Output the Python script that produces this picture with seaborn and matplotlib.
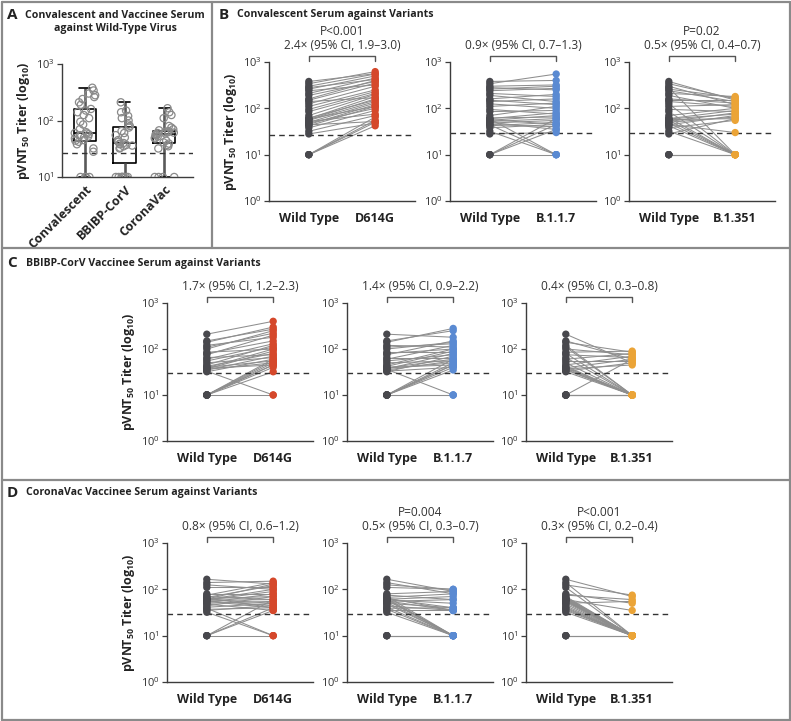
import numpy as np
import pandas as pd
import matplotlib
matplotlib.use("Agg")
import matplotlib.pyplot as plt
import seaborn as sns
from matplotlib.lines import Line2D
from matplotlib.ticker import FixedLocator, NullLocator

# ---- data (pVNT50 titers) ----
# convalescent serum, wild type and the three variants (paired by position)
conv_wt = [10, 10, 10, 10, 28, 32, 38, 42, 44, 45, 48, 50, 52, 55, 57, 59, 60,
           62, 70, 85, 95, 110, 125, 140, 150, 160, 190, 210, 240, 260, 280,
           300, 340, 380]
conv_d614g = [42, 50, 55, 65, 48, 70, 90, 110, 52, 120, 100, 130, 75, 140, 160,
              110, 180, 150, 200, 210, 230, 250, 300, 170, 350, 400, 380, 450,
              320, 500, 420, 550, 620, 560]
conv_b117 = [10, 35, 45, 60, 30, 10, 45, 50, 10, 40, 55, 35, 60, 70, 45, 10, 80,
             65, 110, 90, 75, 130, 100, 160, 120, 200, 140, 180, 270, 300, 250,
             320, 550, 400]
conv_b1351 = [10, 10, 10, 10, 60, 10, 55, 10, 70, 30, 10, 65, 80, 10, 60, 75,
              90, 10, 100, 10, 85, 120, 10, 110, 150, 130, 100, 180, 140, 170,
              10, 120, 160, 150]

# BBIBP-CorV vaccinee serum
bbibp_wt = [10, 10, 10, 10, 10, 10, 10, 10, 32, 33, 35, 36, 37, 38, 39, 40, 42,
            45, 50, 55, 60, 65, 75, 80, 85, 100, 110, 120, 140, 150, 210]
bbibp_d614g = [10, 40, 45, 50, 55, 60, 32, 45, 60, 10, 70, 50, 90, 45, 100, 55,
               80, 120, 65, 110, 130, 75, 200, 150, 100, 250, 220, 180, 300,
               270, 400]
bbibp_b117 = [10, 35, 40, 45, 50, 10, 60, 45, 70, 40, 55, 10, 80, 50, 60, 45,
              90, 100, 55, 75, 120, 65, 150, 100, 85, 140, 130, 110, 280, 250,
              180]
bbibp_b1351 = [10, 60, 10, 10, 10, 10, 10, 10, 10, 50, 10, 10, 45, 10, 60, 10,
               10, 70, 10, 55, 80, 10, 65, 10, 90, 75, 10, 10, 85, 60, 50]

# CoronaVac vaccinee serum
cv_wt = [10, 10, 10, 10, 32, 35, 37, 39, 41, 44, 48, 50, 52, 55, 56, 58, 59, 60,
         61, 62, 63, 65, 67, 70, 75, 80, 110, 125, 140, 165]
cv_d614g = [10, 35, 40, 60, 10, 45, 40, 10, 50, 70, 35, 55, 80, 40, 45, 60, 90,
            100, 50, 130, 70, 40, 120, 60, 140, 80, 110, 100, 150, 130]
cv_b117 = [10, 10, 10, 10, 10, 35, 10, 40, 10, 35, 10, 40, 10, 60, 35, 10, 50,
           10, 70, 40, 10, 35, 80, 10, 60, 90, 100, 100, 80, 90]
cv_b1351 = [10, 10, 10, 10, 10, 10, 10, 10, 10, 10, 10, 55, 10, 10, 10, 10, 10,
            35, 10, 10, 10, 10, 10, 10, 60, 50, 10, 75, 10, 70]

groups = ["Convalescent", "BBIBP-CorV", "CoronaVac"]
variants = ["D614G", "B.1.1.7", "B.1.351"]
cut_a = 27
cut_conv = [26, 30, 30]
cut_vacc = [30, 30, 30]

ratios_conv = ["2.4\u00d7 (95% CI, 1.9\u20133.0)", "0.9\u00d7 (95% CI, 0.7\u20131.3)",
               "0.5\u00d7 (95% CI, 0.4\u20130.7)"]
pvals_conv = ["P<0.001", "", "P=0.02"]
ratios_bbibp = ["1.7\u00d7 (95% CI, 1.2\u20132.3)", "1.4\u00d7 (95% CI, 0.9\u20132.2)",
                "0.4\u00d7 (95% CI, 0.3\u20130.8)"]
pvals_bbibp = ["", "", ""]
ratios_cv = ["0.8\u00d7 (95% CI, 0.6\u20131.2)", "0.5\u00d7 (95% CI, 0.3\u20130.7)",
             "0.3\u00d7 (95% CI, 0.2\u20130.4)"]
pvals_cv = ["", "P=0.004", "P<0.001"]

WT_COLOR = "#48484d"
VAR_COLORS = {"D614G": "#d5482b", "B.1.1.7": "#5a8ad2", "B.1.351": "#eba437"}

sns.set_theme(style="ticks")
plt.rcParams["font.family"] = ["Open Sans", "DejaVu Sans"]
plt.rcParams["mathtext.fontset"] = "custom"
plt.rcParams["mathtext.rm"] = "Open Sans"
plt.rcParams["mathtext.bf"] = "Open Sans:bold"
plt.rcParams["axes.linewidth"] = 1.0

W, H = 791, 721
fig = plt.figure(figsize=(W / 100, H / 100), dpi=100)
fig.patch.set_facecolor("white")

SPINE = "#3c3c3c"
YLABEL = r"pVNT$_{\mathbf{50}}$ Titer (log$_{\mathbf{10}}$)"


def px_axes(x0, ytop, x1, ybot):
    return fig.add_axes([x0 / W, 1 - ybot / H, (x1 - x0) / W, (ybot - ytop) / H])


def px_line(x0, y0, x1, y1):
    fig.add_artist(Line2D([x0 / W, x1 / W], [1 - y0 / H, 1 - y1 / H],
                          transform=fig.transFigure, color="#8a8a8a", lw=1.6))


def px_text(x, y, s, **kw):
    fig.text(x / W, 1 - y / H, s, va="center", **kw)


def style_axis(ax, ymin):
    sns.despine(ax=ax)
    for sp in ["left", "bottom"]:
        ax.spines[sp].set_color(SPINE)
        ax.spines[sp].set_linewidth(1.0)
    ticks = [t for t in [1, 10, 100, 1000] if t >= ymin]
    ax.yaxis.set_major_locator(FixedLocator(ticks))
    ax.yaxis.set_minor_locator(NullLocator())
    ax.tick_params(axis="y", length=3.5, width=0.9, color=SPINE, labelsize=8,
                   labelcolor="#333333", pad=1.5)
    ax.set_facecolor("white")
    ax.grid(False)


def paired(ax, wt, var, vname, cut, ratio, pval, ylabel):
    n = len(wt)
    df = pd.DataFrame({
        "id": list(range(n)) * 2,
        "pos": [0] * n + [1] * n,
        "titer": list(wt) + list(var),
        "strain": ["Wild Type"] * n + [vname] * n,
    })
    ax.set_yscale("log")
    sns.lineplot(data=df, x="pos", y="titer", units="id", estimator=None,
                 color="#8e8e8e", lw=0.75, ax=ax, zorder=1)
    sns.scatterplot(data=df, x="pos", y="titer", hue="strain",
                    palette={"Wild Type": WT_COLOR, vname: VAR_COLORS[vname]},
                    s=28, linewidth=0, legend=False, ax=ax, zorder=3)
    ax.axhline(cut, color="#333333", lw=1.0, ls=(0, (4, 3)), zorder=2)
    ax.set_ylim(1, 1000)
    ax.set_xlim(-0.6, 1.6)
    style_axis(ax, 1)
    ax.set_xticks([0, 1])
    ax.set_xticklabels(["Wild Type", vname], fontweight="bold", fontsize=9,
                       color="#222222")
    ax.tick_params(axis="x", length=0, pad=8)
    ax.set_xlabel("")
    if ylabel:
        ax.set_ylabel(YLABEL, fontweight="bold", fontsize=9, color="#222222",
                      labelpad=3)
    else:
        ax.set_ylabel("")
    # bracket and annotation above the pair
    tr = ax.get_xaxis_transform()
    ax.plot([0, 0, 1, 1], [1.005, 1.045, 1.045, 1.005], transform=tr,
            color="#555555", lw=1.0, clip_on=False)
    ax.text(0.5, 1.118, ratio, transform=tr, ha="center", va="center",
            fontsize=8.6, color="#333333")
    if pval:
        ax.text(0.5, 1.218, pval, transform=tr, ha="center", va="center",
                fontsize=8.6, color="#333333")


# ---- panel A ----
axA = px_axes(62, 64, 193, 177)
dfA = pd.DataFrame({
    "group": [groups[0]] * len(conv_wt) + [groups[1]] * len(bbibp_wt)
    + [groups[2]] * len(cv_wt),
    "titer": conv_wt + bbibp_wt + cv_wt,
})
sns.boxplot(data=dfA, x="group", y="titer", order=groups, whis=(0, 100),
            width=0.56, fill=False, color="black", linewidth=1.2,
            log_scale=True, ax=axA,
            boxprops={"color": "black", "linewidth": 1.2},
            medianprops={"color": "black", "linewidth": 1.2},
            whiskerprops={"color": "#5a5a5a", "linewidth": 1.9},
            capprops={"color": "black", "linewidth": 1.2})
np.random.seed(3)
sns.stripplot(data=dfA, x="group", y="titer", order=groups, jitter=0.27,
              color="white", edgecolor="#8a8a8a", linewidth=0.9, size=5.2,
              log_scale=True, ax=axA, zorder=4)
for coll in axA.collections:
    coll.set_facecolor("none")
axA.axhline(cut_a, color="#333333", lw=1.0, ls=(0, (4, 3)), zorder=2)
axA.set_ylim(10, 1000)
axA.set_xlim(-0.58, 2.73)
style_axis(axA, 10)
axA.set_xticks(range(3))
axA.set_xticklabels(groups, rotation=45, ha="right", rotation_mode="anchor",
                    fontweight="bold", fontsize=9, color="#222222")
axA.tick_params(axis="x", length=0, pad=4)
axA.set_xlabel("")
axA.set_ylabel(YLABEL, fontweight="bold", fontsize=9, color="#222222",
               labelpad=3)

# ---- panels B, C, D ----
rows = [
    (conv_wt, [conv_d614g, conv_b117, conv_b1351], ratios_conv, pvals_conv,
     [269, 450, 629], 62, 201, cut_conv),
    (bbibp_wt, [bbibp_d614g, bbibp_b117, bbibp_b1351], ratios_bbibp,
     pvals_bbibp, [167, 347, 526], 303, 441, cut_vacc),
    (cv_wt, [cv_d614g, cv_b117, cv_b1351], ratios_cv, pvals_cv,
     [167, 347, 526], 543, 682, cut_vacc),
]
for wt, vars_, ratios, pvals, xs, ytop, ybot, cuts in rows:
    for i in range(3):
        ax = px_axes(xs[i], ytop, xs[i] + 146, ybot)
        paired(ax, wt, vars_[i], variants[i], cuts[i], ratios[i], pvals[i],
               ylabel=(i == 0))

# ---- panel frames and titles ----
px_line(1.5, 1.5, 789.5, 1.5)
px_line(1.5, 719.5, 789.5, 719.5)
px_line(1.5, 1.5, 1.5, 719.5)
px_line(789.5, 1.5, 789.5, 719.5)
px_line(1.5, 248, 789.5, 248)
px_line(1.5, 480, 789.5, 480)
px_line(212, 1.5, 212, 248)

LET = dict(fontsize=11, fontweight="bold", color="#222222", ha="left")
TIT = dict(fontsize=7.6, fontweight="bold", color="#222222")
px_text(7, 15, "A", **LET)
px_text(115, 22, "Convalescent and Vaccinee Serum\nagainst Wild-Type Virus",
        ha="center", multialignment="center", linespacing=1.3, **TIT)
px_text(219, 15, "B", **LET)
px_text(237, 15, "Convalescent Serum against Variants", ha="left", **TIT)
px_text(7, 263, "C", **LET)
px_text(26, 263, "BBIBP-CorV Vaccinee Serum against Variants", ha="left", **TIT)
px_text(7, 493, "D", **LET)
px_text(26, 493, "CoronaVac Vaccinee Serum against Variants", ha="left", **TIT)

fig.savefig("out.png", dpi=100, facecolor="white")
